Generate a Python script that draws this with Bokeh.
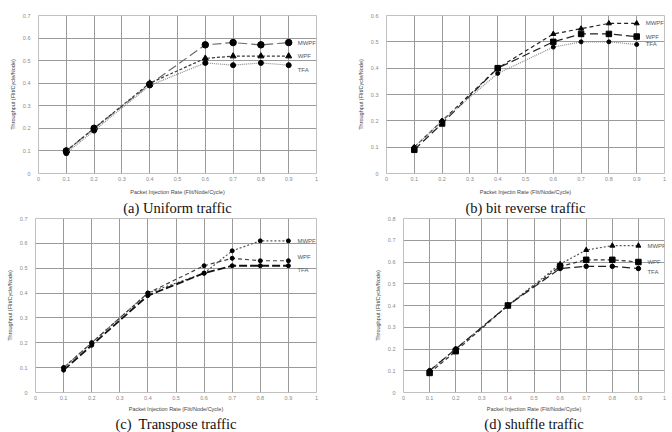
from bokeh.plotting import figure
from bokeh.layouts import column, row
from bokeh.models import FixedTicker, CustomJSTickFormatter, Title, Label
from bokeh.embed import file_html
from bokeh.resources import INLINE

# ---- data ----
rates = [0.1, 0.2, 0.4, 0.6, 0.7, 0.8, 0.9]
x_ticks = [0, 0.1, 0.2, 0.3, 0.4, 0.5, 0.6, 0.7, 0.8, 0.9, 1.0]
series_names = ["MWPF", "WPF", "TFA"]

uniform_mwpf = [0.10, 0.20, 0.395, 0.57, 0.58, 0.57, 0.58]
uniform_wpf = [0.10, 0.20, 0.40, 0.51, 0.52, 0.52, 0.52]
uniform_tfa = [0.09, 0.19, 0.39, 0.49, 0.48, 0.49, 0.48]

bitrev_mwpf = [0.10, 0.20, 0.40, 0.53, 0.55, 0.57, 0.57]
bitrev_wpf = [0.09, 0.19, 0.40, 0.50, 0.53, 0.53, 0.52]
bitrev_tfa = [0.10, 0.20, 0.38, 0.48, 0.50, 0.50, 0.49]

transp_mwpf = [0.10, 0.20, 0.40, 0.48, 0.57, 0.61, 0.61]
transp_wpf = [0.10, 0.20, 0.40, 0.51, 0.54, 0.53, 0.53]
transp_tfa = [0.09, 0.19, 0.39, 0.48, 0.51, 0.51, 0.51]

shuffle_mwpf = [0.10, 0.20, 0.40, 0.59, 0.655, 0.675, 0.675]
shuffle_wpf = [0.09, 0.19, 0.40, 0.58, 0.61, 0.61, 0.60]
shuffle_tfa = [0.10, 0.20, 0.40, 0.57, 0.58, 0.58, 0.57]

captions = ["(a) Uniform traffic", "(b) bit reverse traffic",
            "(c)\u00a0 Transpose traffic", "(d) shuffle traffic"]
x_titles = ["Packet Injection Rate (Flit/Node/Cycle)",
            "Packet Injectin Rate (Flit/Node/Cycle)",
            "Packet Injection Rate (Flit/Node/Cycle)",
            "Packet Injection Rate (Flit/Node/Cycle)"]
y_title = "Throughput (Flit/Cycle/Node)"
y_max = [0.7, 0.6, 0.7, 0.8]

SANS = "Liberation Sans"
fmt = CustomJSTickFormatter(code="return (Math.round(tick*10)/10).toString();")


def make_panel(idx, data, styles, borders, w, h, xoff, coff, label_dy,
               xt_standoff, cap_standoff):
    left, right, top, bottom = borders
    ym = y_max[idx]
    y_ticks = [round(i * 0.1, 1) for i in range(int(round(ym * 10)) + 1)]
    p = figure(width=w, height=h, x_range=(0, 1), y_range=(0, ym),
               output_backend="svg", toolbar_location=None,
               min_border_left=left, min_border_right=right,
               min_border_top=top, min_border_bottom=bottom)
    p.background_fill_color = "white"
    p.border_fill_color = "white"
    p.outline_line_color = "#c0c0c0"
    for ax in (p.xaxis[0], p.yaxis[0]):
        ax.axis_line_color = None
        ax.major_tick_line_color = None
        ax.minor_tick_line_color = None
        ax.major_tick_out = 0
        ax.major_tick_in = 0
        ax.major_label_text_font = SANS
        ax.major_label_text_font_size = "5.5px"
        ax.major_label_text_color = "#8a8a8a"
        ax.formatter = fmt
    p.xaxis.ticker = FixedTicker(ticks=x_ticks)
    p.yaxis.ticker = FixedTicker(ticks=y_ticks)
    p.xaxis.major_label_standoff = 3
    p.yaxis.major_label_standoff = 8
    p.yaxis.axis_label = y_title
    p.yaxis.axis_label_text_font = SANS
    p.yaxis.axis_label_text_font_size = "5.5px"
    p.yaxis.axis_label_text_font_style = "normal"
    p.yaxis.axis_label_text_color = "#444444"
    p.yaxis.axis_label_standoff = 4
    p.xgrid.grid_line_color = "#9a9a9a"
    p.ygrid.grid_line_color = "#9a9a9a"

    for name, ys, st, dy in zip(series_names, data, styles, label_dy):
        p.line(rates, ys, line_color=st["color"], line_width=st.get("lw", 1.2),
               line_dash=st["dash"])
        p.scatter(rates, ys, marker=st["marker"], size=st["size"],
                  fill_color="black", line_color="black")
        p.add_layout(Label(x=rates[-1], y=ys[-1], x_offset=9, y_offset=dy,
                           text=name, text_font=SANS, text_font_size="6px",
                           text_color="#555555", text_baseline="middle"))

    xt = Title(text=x_titles[idx], align="center", offset=xoff,
               text_font=SANS, text_font_size="5.5px", text_font_style="normal",
               text_color="#444444", standoff=xt_standoff)
    p.add_layout(xt, "below")
    cap = Title(text=captions[idx], align="center", offset=coff,
                text_font="Liberation Serif", text_font_size="14.5px",
                text_font_style="normal", text_color="#111111",
                standoff=cap_standoff)
    p.add_layout(cap, "below")
    return p


st_a = [dict(color="#6a6a6a", dash="9 4", marker="circle", size=6.5),
        dict(color="#3a3a3a", dash="3 2", marker="triangle", size=6),
        dict(color="#8a8a8a", dash="1 1", marker="circle", size=5)]
st_b = [dict(color="#222222", dash="4 3", marker="triangle", size=5),
        dict(color="#222222", dash="8 4", marker="square", size=5.5),
        dict(color="#8a8a8a", dash="1 1", marker="circle", size=4)]
st_c = [dict(color="#555555", dash="2 2", marker="circle", size=4),
        dict(color="#444444", dash="4 3", marker="circle", size=4),
        dict(color="#111111", dash="8 3", marker="circle", size=4, lw=1.8)]
st_d = [dict(color="#555555", dash="2 2", marker="triangle", size=5),
        dict(color="#333333", dash="4 3", marker="square", size=5.5),
        dict(color="#222222", dash="8 4", marker="circle", size=4.5)]

pa = make_panel(0, [uniform_mwpf, uniform_wpf, uniform_tfa], st_a,
                (38, 20, 15, 43), 336, 216, -15, -16, [0, 0, -5], 6, 1)
pb = make_panel(1, [bitrev_mwpf, bitrev_wpf, bitrev_tfa], st_b,
                (50, 8, 15, 41), 336, 216, 9, -5, [0, 0, 0], 6, 1)
pc = make_panel(2, [transp_mwpf, transp_wpf, transp_tfa], st_c,
                (35, 20, 2, 40), 336, 216, 2, 2, [0, 4, -4], 3, 0)
pd = make_panel(3, [shuffle_mwpf, shuffle_wpf, shuffle_tfa], st_d,
                (67, 8, 2, 40), 336, 216, 46, 33, [0, 0, -3], 3, 0)

layout = column(row(pa, pb), row(pc, pd))
open("out.html", "w").write(file_html(layout, INLINE))
